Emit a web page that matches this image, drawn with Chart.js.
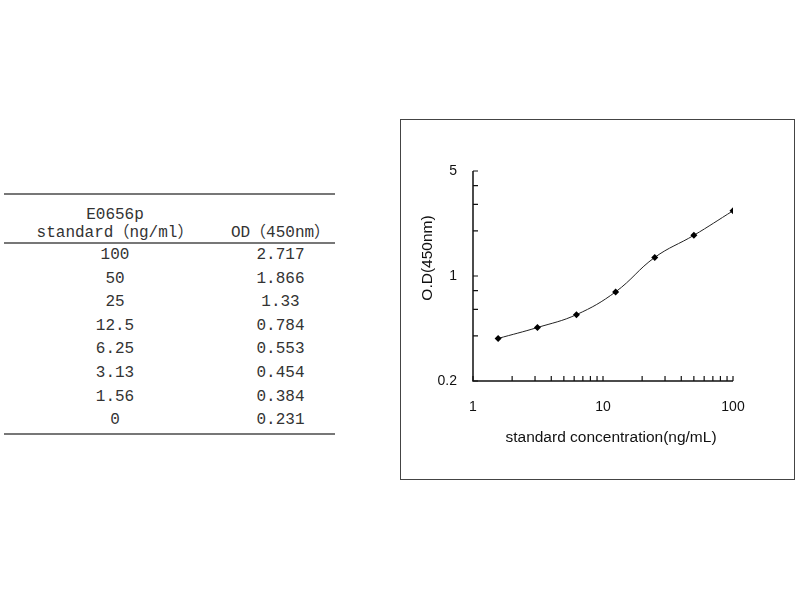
<!DOCTYPE html>
<html>
<head>
<meta charset="utf-8">
<script src="https://cdn.jsdelivr.net/npm/chart.js@4/dist/chart.umd.min.js"></script>
<style>
  body { margin: 0; background: #fff; width: 800px; height: 600px; position: relative; overflow: hidden; }
  #table-wrap { position: absolute; left: 4px; top: 193px; width: 331px; }
  table { border-collapse: collapse; width: 331px; font-family: "Liberation Mono", "Noto Sans CJK SC", monospace; font-size: 16px; color: #333; }
  td { padding: 0; text-align: center; }
  thead tr.first td { border-top: 2px solid #777; padding-top: 12px; line-height: 17.5px; height: 17.5px; }
  thead tr.second td { border-bottom: 2px solid #777; line-height: 17.5px; height: 17.5px; vertical-align: bottom; }
  tbody td { height: 23.6px; line-height: 23.6px; }
  tbody tr:last-child td { border-bottom: 2px solid #777; }
  .c1 { width: 222px; }
  .c2 { width: 109px; }
  #box { position: absolute; left: 400px; top: 119px; width: 393px; height: 359px; border: 1px solid #444; }
  canvas { display: block; }
</style>
</head>
<body>
<div id="table-wrap">
  <table>
    <thead>
      <tr class="first"><td class="c1" id="kit-name"></td><td class="c2"></td></tr>
      <tr class="second"><td class="c1" id="col1-title"></td><td class="c2" id="col2-title"></td></tr>
    </thead>
    <tbody id="table-body"></tbody>
  </table>
</div>
<div id="box"><canvas id="graph" width="393" height="359"></canvas></div>

<script>
// Data
const kitName = 'E0656p';
const concentrationTitle = 'standard（ng/ml）';
const odTitle = 'OD（450nm）';
const concentrations = ['100', '50', '25', '12.5', '6.25', '3.13', '1.56', '0'];
const odValues = ['2.717', '1.866', '1.33', '0.784', '0.553', '0.454', '0.384', '0.231'];

// Axis ticks
const xTicks = [1, 2, 3, 4, 5, 6, 7, 8, 9, 10, 20, 30, 40, 50, 60, 70, 80, 90, 100];
const xLabels = [1, 10, 100];
const yTicks = [0.2, 0.4, 0.6, 0.8, 1, 2, 3, 4, 5];
const yLabels = [0.2, 1, 5];
const xTitle = 'standard concentration(ng/mL)';
const yTitle = 'O.D(450nm)';

// Fill the table
document.getElementById('kit-name').textContent = kitName;
document.getElementById('col1-title').textContent = concentrationTitle;
document.getElementById('col2-title').textContent = odTitle;
const tableBody = document.getElementById('table-body');
concentrations.forEach((c, i) => {
  const row = document.createElement('tr');
  row.innerHTML = '<td class="c1">' + c + '</td><td class="c2">' + odValues[i] + '</td>';
  tableBody.appendChild(row);
});

// Points for the log-log curve (zero standard cannot be shown on a log axis)
const points = concentrations
  .map((c, i) => ({ x: parseFloat(c), y: parseFloat(odValues[i]) }))
  .filter((p) => p.x > 0)
  .sort((a, b) => a.x - b.x);

// Axes, inward ticks and titles drawn from the chart's own scales
const axesPlugin = {
  id: 'axes',
  beforeDatasetsDraw(chart) {
    const ctx = chart.ctx;
    const area = chart.chartArea;
    const xs = chart.scales.x;
    const ys = chart.scales.y;
    ctx.save();
    ctx.strokeStyle = '#111';
    ctx.lineWidth = 1.5;
    ctx.beginPath();
    ctx.moveTo(area.left, ys.getPixelForValue(5));
    ctx.lineTo(area.left, area.bottom);
    ctx.lineTo(xs.getPixelForValue(100), area.bottom);
    ctx.stroke();

    ctx.lineWidth = 1.2;
    ctx.beginPath();
    xTicks.forEach((v) => {
      const px = xs.getPixelForValue(v);
      ctx.moveTo(px, area.bottom);
      ctx.lineTo(px, area.bottom - 5);
    });
    yTicks.forEach((v) => {
      const py = ys.getPixelForValue(v);
      ctx.moveTo(area.left, py);
      ctx.lineTo(area.left + 5, py);
    });
    ctx.stroke();

    ctx.fillStyle = '#111';
    ctx.font = '14px "Liberation Sans", Arial, sans-serif';
    ctx.textAlign = 'center';
    ctx.textBaseline = 'middle';
    xLabels.forEach((v) => {
      ctx.fillText(String(v), xs.getPixelForValue(v), area.bottom + 26);
    });
    ctx.textAlign = 'right';
    yLabels.forEach((v) => {
      ctx.fillText(String(v), area.left - 16, ys.getPixelForValue(v));
    });

    ctx.font = '15.5px "Liberation Sans", Arial, sans-serif';
    ctx.textAlign = 'center';
    ctx.fillText(xTitle, (area.left + area.right) / 2 + 8, area.bottom + 57);
    ctx.translate(area.left - 45, (area.top + area.bottom) / 2 - 18);
    ctx.rotate(-Math.PI / 2);
    ctx.fillText(yTitle, 0, 0);
    ctx.restore();
  }
};

new Chart(document.getElementById('graph').getContext('2d'), {
  type: 'line',
  data: {
    datasets: [
      {
        data: points,
        borderColor: '#222',
        borderWidth: 1,
        tension: 0.4,
        pointStyle: 'rectRot',
        pointRadius: 3.5,
        pointBackgroundColor: '#000',
        pointBorderColor: '#000',
        pointBorderWidth: 0
      }
    ]
  },
  options: {
    responsive: false,
    animation: false,
    layout: { padding: { left: 72, top: 51, right: 61, bottom: 98 } },
    plugins: { legend: { display: false }, tooltip: { enabled: false } },
    scales: {
      x: { type: 'logarithmic', min: 1, max: 100, display: false },
      y: { type: 'logarithmic', min: 0.2, max: 5, display: false }
    }
  },
  plugins: [axesPlugin]
});
</script>
</body>
</html>
